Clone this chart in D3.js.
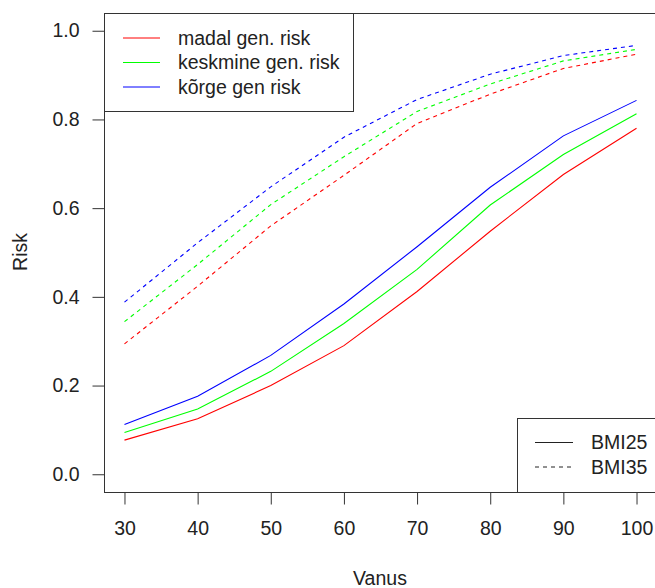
<!DOCTYPE html>
<html>
<head>
<meta charset="utf-8">
<script src="https://cdn.jsdelivr.net/npm/d3@7"></script>
<style>
  body { margin: 0; background: #fff; }
  text { font-family: "Liberation Sans", Arial, sans-serif; fill: #222; }
</style>
</head>
<body>
<script>
var width = 655,
    height = 588;

// data
var ages = [30, 40, 50, 60, 70, 80, 90, 100];
var madal25 = [0.077, 0.125, 0.200, 0.290, 0.412, 0.548, 0.676, 0.780];
var keskmine25 = [0.094, 0.147, 0.232, 0.340, 0.462, 0.607, 0.721, 0.813];
var korge25 = [0.112, 0.176, 0.268, 0.384, 0.513, 0.647, 0.763, 0.843];
var madal35 = [0.294, 0.424, 0.560, 0.674, 0.791, 0.857, 0.915, 0.947];
var keskmine35 = [0.344, 0.473, 0.608, 0.716, 0.818, 0.880, 0.932, 0.958];
var korge35 = [0.388, 0.522, 0.648, 0.760, 0.845, 0.902, 0.944, 0.967];
var xTicks = [30, 40, 50, 60, 70, 80, 90, 100];
var yTicks = [0, 0.2, 0.4, 0.6, 0.8, 1.0];
var groupNames = ["madal gen. risk", "keskmine gen. risk", "kõrge gen risk"];
var groupColors = ["#ff0000", "#00ff00", "#0000ff"];
var bmiNames = ["BMI25", "BMI35"];

var series = [
  { values: madal25, color: groupColors[0], dash: null },
  { values: keskmine25, color: groupColors[1], dash: null },
  { values: korge25, color: groupColors[2], dash: null },
  { values: madal35, color: groupColors[0], dash: "4,4" },
  { values: keskmine35, color: groupColors[1], dash: "4,4" },
  { values: korge35, color: groupColors[2], dash: "4,4" }
];

var fontSize = "19.5px";

var svg = d3.select("body").append("svg")
    .attr("width", width)
    .attr("height", height);

var plotLeft = 104, plotRight = 657, plotTop = 13, plotBottom = 492;

var x = d3.scaleLinear().domain([27.2, 102.8]).range([plotLeft, plotRight]);
var y = d3.scaleLinear().domain([-0.04, 1.04]).range([plotBottom, plotTop]);

var line = d3.line()
    .x(function (d, i) { return x(ages[i]); })
    .y(function (d) { return y(d); });

svg.selectAll(".series")
    .data(series)
    .enter()
    .append("path")
    .attr("class", "series")
    .attr("fill", "none")
    .attr("stroke", function (d) { return d.color; })
    .attr("stroke-width", 1.1)
    .attr("stroke-dasharray", function (d) { return d.dash; })
    .attr("d", function (d) { return line(d.values); });

// plot frame
svg.append("rect")
    .attr("x", plotLeft + 0.5)
    .attr("y", plotTop + 0.5)
    .attr("width", plotRight - plotLeft)
    .attr("height", plotBottom - plotTop)
    .attr("fill", "none")
    .attr("stroke", "#333");

// axes
var xAxis = svg.append("g")
    .attr("transform", "translate(0," + (plotBottom + 0.5) + ")")
    .call(d3.axisBottom(x).tickValues(xTicks).tickSize(12).tickPadding(17).tickFormat(d3.format("d")));
xAxis.select(".domain").remove();
xAxis.selectAll("line").attr("stroke", "#333");
xAxis.selectAll("text").style("font-size", fontSize).attr("fill", "#222");

var yAxis = svg.append("g")
    .attr("transform", "translate(" + (plotLeft + 0.5) + ",0)")
    .call(d3.axisLeft(y).tickValues(yTicks).tickSize(12).tickPadding(13).tickFormat(d3.format(".1f")));
yAxis.select(".domain").remove();
yAxis.selectAll("line").attr("stroke", "#333");
yAxis.selectAll("text").style("font-size", fontSize).attr("fill", "#222");

svg.append("text")
    .attr("x", 380)
    .attr("y", 585)
    .attr("text-anchor", "middle")
    .style("font-size", fontSize)
    .text("Vanus");

svg.append("text")
    .attr("transform", "translate(27,252) rotate(-90)")
    .attr("text-anchor", "middle")
    .style("font-size", fontSize)
    .text("Risk");

// legend: genetic risk
var leg1 = svg.append("g");
leg1.append("rect")
    .attr("x", plotLeft + 0.5).attr("y", plotTop + 0.5)
    .attr("width", 249).attr("height", 98)
    .attr("fill", "#fff").attr("stroke", "#333");
groupNames.forEach(function (name, i) {
  var ly = 38 + i * 24.5;
  leg1.append("line")
      .attr("x1", 123).attr("x2", 160)
      .attr("y1", ly).attr("y2", ly)
      .attr("stroke", groupColors[i]);
  leg1.append("text")
      .attr("x", 178).attr("y", ly)
      .attr("dy", "0.35em")
      .style("font-size", fontSize)
      .text(name);
});

// legend: BMI
var leg2 = svg.append("g");
leg2.append("rect")
    .attr("x", 517.5).attr("y", 418.5)
    .attr("width", 160).attr("height", plotBottom - 418)
    .attr("fill", "#fff").attr("stroke", "#333");
bmiNames.forEach(function (name, i) {
  var ly = 442.5 + i * 24.5;
  leg2.append("line")
      .attr("x1", 535).attr("x2", 573)
      .attr("y1", ly).attr("y2", ly)
      .attr("stroke", "#222")
      .attr("stroke-dasharray", i === 1 ? "4,4" : null);
  leg2.append("text")
      .attr("x", 591).attr("y", ly)
      .attr("dy", "0.35em")
      .style("font-size", fontSize)
      .text(name);
});
</script>
</body>
</html>
